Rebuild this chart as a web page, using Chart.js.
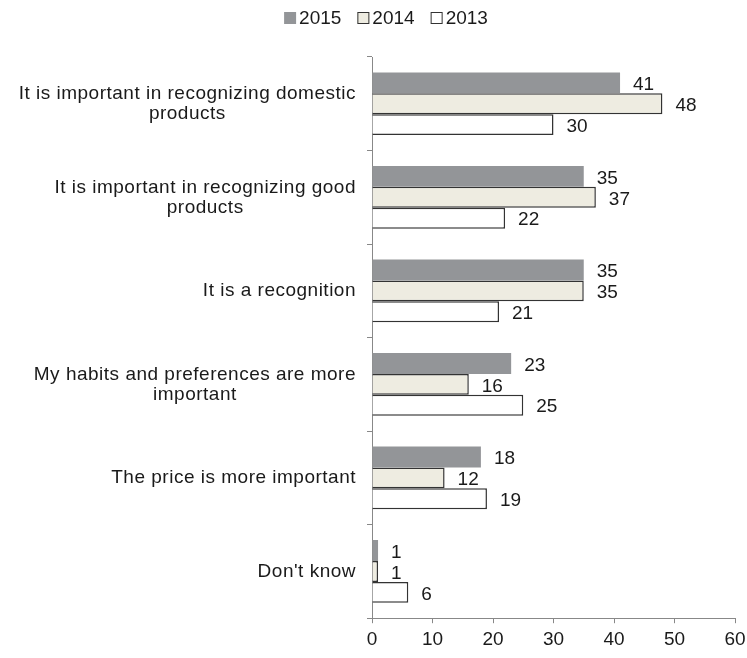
<!DOCTYPE html>
<html lang="en">
<head>
    <meta charset="UTF-8">
    <title>Recognition survey</title>
    <script src="https://cdn.jsdelivr.net/npm/chart.js"></script>
    <style>
        html, body { margin: 0; padding: 0; background: #fff; }
        #wrap { width: 747px; height: 658px; }
    </style>
</head>
<body>
    <div id="wrap"><canvas id="chart"></canvas></div>

    <script>
        // data
        const categories = [
            ['It is important in recognizing domestic', 'products'],
            ['It is important in recognizing good', 'products'],
            ['It is a recognition'],
            ['My habits and preferences are more', 'important'],
            ['The price is more important'],
            ["Don't know"]
        ];
        const seriesNames = ['2015', '2014', '2013'];
        const values2015 = [41, 35, 35, 23, 18, 1];
        const values2014 = [48, 37, 35, 16, 12, 1];
        const values2013 = [30, 22, 21, 25, 19, 6];
        const xTicks = [0, 10, 20, 30, 40, 50, 60];

        const FONT = 'Liberation Sans, Arial, sans-serif';
        const TEXT = '#1a1a1a';
        Chart.defaults.font.family = FONT;
        Chart.defaults.font.size = 19;
        Chart.defaults.color = TEXT;

        // value labels to the right of each bar
        const valueLabels = {
            id: 'valueLabels',
            afterDatasetsDraw(chart) {
                const ctx = chart.ctx;
                ctx.save();
                ctx.font = '19px ' + FONT;
                ctx.fillStyle = TEXT;
                ctx.textBaseline = 'middle';
                ctx.textAlign = 'left';
                chart.data.datasets.forEach((ds, i) => {
                    chart.getDatasetMeta(i).data.forEach((bar, j) => {
                        ctx.fillText(ds.data[j], bar.x + 13, bar.y + 2);
                    });
                });
                ctx.restore();
            }
        };

        // category labels: each multi-line label centred on itself, right edge near the axis
        const categoryLabels = {
            id: 'categoryLabels',
            afterDraw(chart) {
                const ctx = chart.ctx;
                const y = chart.scales.y;
                ctx.save();
                ctx.font = '19px ' + FONT;
                ctx.letterSpacing = '0.5px';
                ctx.fillStyle = TEXT;
                ctx.textBaseline = 'middle';
                ctx.textAlign = 'center';
                const right = y.right - 16;
                const lineH = 20;
                categories.forEach((lines, i) => {
                    const cy = y.getPixelForTick(i);
                    const w = Math.max(...lines.map(l => ctx.measureText(l).width));
                    const cx = right - w / 2;
                    const top = cy - (lines.length - 1) * lineH / 2;
                    lines.forEach((l, k) => ctx.fillText(l, cx, top + k * lineH));
                });
                ctx.restore();
            }
        };

        // legend drawn by hand: small square right next to its text
        const topLegend = {
            id: 'topLegend',
            afterDraw(chart) {
                const ctx = chart.ctx;
                ctx.save();
                ctx.font = '19px ' + FONT;
                ctx.textBaseline = 'middle';
                ctx.textAlign = 'left';
                const box = 12, gap = 3, itemGap = 16, cy = 18;
                const items = chart.data.datasets.map(ds => ({
                    ds, w: box + gap + ctx.measureText(ds.label).width
                }));
                const total = items.reduce((s, it) => s + it.w, 0) + itemGap * (items.length - 1);
                let x = 386 - total / 2;
                items.forEach(it => {
                    ctx.fillStyle = it.ds.backgroundColor;
                    ctx.fillRect(x, cy - box / 2, box, box);
                    if (it.ds.borderWidth) {
                        ctx.strokeStyle = it.ds.borderColor;
                        ctx.lineWidth = 1;
                        ctx.strokeRect(x + 0.5, cy - box / 2 + 0.5, box - 1, box - 1);
                    }
                    ctx.fillStyle = TEXT;
                    ctx.fillText(it.ds.label, x + box + gap, cy + 1);
                    x += it.w + itemGap;
                });
                ctx.restore();
            }
        };

        new Chart(document.getElementById('chart'), {
            type: 'bar',
            data: {
                labels: categories.map(c => c.join(' ')),
                datasets: [
                    {
                        label: seriesNames[0],
                        data: values2015,
                        backgroundColor: '#939598',
                        borderColor: '#939598',
                        borderWidth: 0
                    },
                    {
                        label: seriesNames[1],
                        data: values2014,
                        backgroundColor: '#eeece1',
                        borderColor: '#333',
                        borderWidth: 1.5
                    },
                    {
                        label: seriesNames[2],
                        data: values2013,
                        backgroundColor: '#ffffff',
                        borderColor: '#333',
                        borderWidth: 1.5
                    }
                ]
            },
            options: {
                indexAxis: 'y',
                responsive: true,
                maintainAspectRatio: false,
                animation: false,
                layout: { padding: { top: 57, right: 12, bottom: 2, left: 0 } },
                datasets: {
                    bar: { categoryPercentage: 0.67, barPercentage: 1 }
                },
                plugins: {
                    legend: { display: false },
                    tooltip: { enabled: false }
                },
                scales: {
                    x: {
                        min: 0,
                        max: 60,
                        afterBuildTicks(scale) {
                            scale.ticks = xTicks.map(v => ({ value: v }));
                        },
                        afterFit(scale) { scale.paddingRight = 0; },
                        grid: {
                            drawOnChartArea: false,
                            tickLength: 5,
                            color: '#888'
                        },
                        border: { color: '#888' },
                        ticks: { color: TEXT, padding: 5, font: { size: 19 } }
                    },
                    y: {
                        afterFit(scale) { scale.width = 372; },
                        grid: {
                            drawOnChartArea: false,
                            offset: true,
                            tickLength: 5,
                            color: '#888'
                        },
                        border: { color: '#888' },
                        ticks: { display: false }
                    }
                }
            },
            plugins: [valueLabels, categoryLabels, topLegend]
        });
    </script>
</body>
</html>
